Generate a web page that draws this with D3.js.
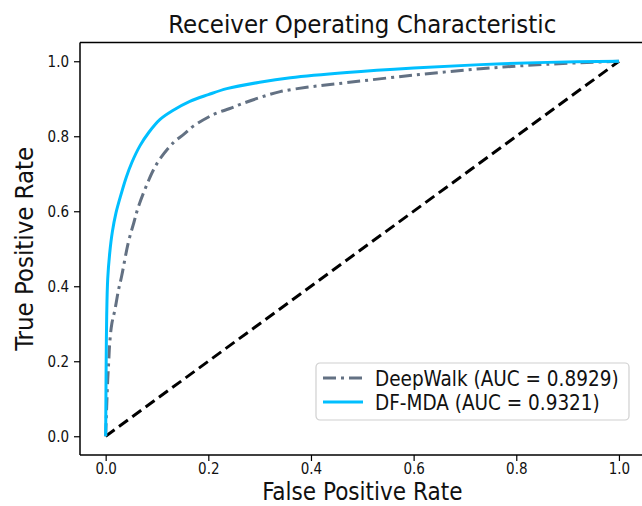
<!DOCTYPE html>
<html>
<head>
<meta charset="utf-8">
<script src="https://cdn.jsdelivr.net/npm/d3@7"></script>
<style>
  body { margin: 0; background: #fff; }
  text { font-family: "DejaVu Sans Condensed", "DejaVu Sans", sans-serif; font-stretch: condensed; }
</style>
</head>
<body>
<svg id="chart" width="642" height="506"></svg>
<script>
// ROC data
const dfFpr = [0, 0.0005, 0.001, 0.002, 0.004, 0.008, 0.013, 0.02, 0.03, 0.04, 0.051, 0.067, 0.085, 0.106, 0.13, 0.164, 0.2, 0.236, 0.3, 0.36, 0.47, 0.6, 0.73, 0.86, 1.0];
const dfTpr = [0, 0.1, 0.2, 0.32, 0.42, 0.49, 0.545, 0.595, 0.645, 0.69, 0.73, 0.775, 0.812, 0.845, 0.868, 0.893, 0.911, 0.927, 0.944, 0.956, 0.970, 0.982, 0.991, 0.997, 1.0];

const dwFpr = [0, 0.002, 0.004, 0.006, 0.008, 0.012, 0.018, 0.025, 0.031, 0.044, 0.055, 0.064, 0.083, 0.093, 0.106, 0.132, 0.152, 0.171, 0.21, 0.242, 0.262, 0.3, 0.34, 0.4, 0.47, 0.6, 0.73, 0.86, 1.0];
const dwTpr = [0, 0.08, 0.15, 0.2, 0.25, 0.3, 0.337, 0.39, 0.426, 0.516, 0.57, 0.613, 0.68, 0.71, 0.74, 0.783, 0.805, 0.827, 0.858, 0.874, 0.885, 0.903, 0.919, 0.932, 0.943, 0.963, 0.980, 0.992, 1.0];

const chanceFpr = [0, 1];
const chanceTpr = [0, 1];

const seriesNames = ["DeepWalk (AUC = 0.8929)", "DF-MDA (AUC = 0.9321)"];
const tickValues = [0, 0.2, 0.4, 0.6, 0.8, 1.0];

const svg = d3.select("#chart");

// plot box (right spine falls just outside the picture)
const boxL = 80, boxT = 42.5, boxR = 644.6, boxB = 455;

const x = d3.scaleLinear().domain([-0.05, 1.05]).range([boxL, boxR]);
const y = d3.scaleLinear().domain([-0.05, 1.05]).range([boxB, boxT]);

const zip = (a, b) => a.map((v, i) => [v, b[i]]);
const line = d3.line().x(d => x(d[0])).y(d => y(d[1])).curve(d3.curveCatmullRom.alpha(0.5));

const plot = svg.append("g");

// chance line
plot.append("path")
  .attr("d", d3.line().x(d => x(d[0])).y(d => y(d[1]))(zip(chanceFpr, chanceTpr)))
  .attr("fill", "none")
  .attr("stroke", "#000")
  .attr("stroke-width", 3)
  .attr("stroke-dasharray", "11,5.5");

// DeepWalk
plot.append("path")
  .attr("d", line(zip(dwFpr, dwTpr)))
  .attr("fill", "none")
  .attr("stroke", "#637183")
  .attr("stroke-width", 3)
  .attr("stroke-dasharray", "13,5,3,5");

// DF-MDA
plot.append("path")
  .attr("d", line(zip(dfFpr, dfTpr)))
  .attr("fill", "none")
  .attr("stroke", "#00bfff")
  .attr("stroke-width", 3);

// axes
const xAxis = svg.append("g")
  .attr("transform", `translate(0,${boxB})`)
  .call(d3.axisBottom(x).tickValues(tickValues).tickFormat(d3.format(".1f")).tickSizeOuter(0).tickSize(6).tickPadding(2));
const yAxis = svg.append("g")
  .attr("transform", `translate(${boxL},0)`)
  .call(d3.axisLeft(y).tickValues(tickValues).tickFormat(d3.format(".1f")).tickSizeOuter(0).tickSize(6).tickPadding(5));

[xAxis, yAxis].forEach(a => {
  a.select(".domain").remove();
  a.selectAll(".tick line").attr("stroke", "#000").attr("stroke-width", 1.2);
  a.selectAll(".tick text").attr("fill", "#111").style("font-size", "15px");
});

// spines
svg.append("line").attr("x1", boxL).attr("x2", boxL).attr("y1", boxT).attr("y2", boxB)
  .attr("stroke", "#000").attr("stroke-width", 1.5);
svg.append("line").attr("x1", boxL).attr("x2", 642).attr("y1", boxT).attr("y2", boxT)
  .attr("stroke", "#000").attr("stroke-width", 1.5);
svg.append("line").attr("x1", boxL).attr("x2", 642).attr("y1", boxB).attr("y2", boxB)
  .attr("stroke", "#000").attr("stroke-width", 1.5);

// title and labels
svg.append("text")
  .attr("x", (boxL + boxR) / 2).attr("y", 33)
  .attr("text-anchor", "middle")
  .style("font-size", "25.5px").attr("fill", "#111")
  .text("Receiver Operating Characteristic");

svg.append("text")
  .attr("x", (boxL + boxR) / 2).attr("y", 500)
  .attr("text-anchor", "middle")
  .style("font-size", "24px").attr("fill", "#111")
  .text("False Positive Rate");

svg.append("text")
  .attr("transform", `translate(33,${(boxT + boxB) / 2}) rotate(-90)`)
  .attr("text-anchor", "middle")
  .style("font-size", "25.5px").attr("fill", "#111")
  .text("True Positive Rate");

// legend
const lg = svg.append("g").attr("transform", "translate(316,363)");
lg.append("rect")
  .attr("width", 313).attr("height", 57).attr("rx", 4)
  .attr("fill", "#fff").attr("fill-opacity", 0.85)
  .attr("stroke", "#d0d0d0").attr("stroke-width", 1.2);

const legendStyles = [
  { color: "#637183", dash: "13,5,3,5" },
  { color: "#00bfff", dash: null }
];

seriesNames.forEach((name, i) => {
  const row = lg.append("g").attr("transform", `translate(0,${15 + i * 24})`);
  row.append("line")
    .attr("x1", 7).attr("x2", 47).attr("y1", 0).attr("y2", 0)
    .attr("stroke", legendStyles[i].color).attr("stroke-width", 3)
    .attr("stroke-dasharray", legendStyles[i].dash);
  row.append("text")
    .attr("x", 59).attr("y", 7.5)
    .style("font-size", "20.5px").attr("fill", "#111")
    .text(name);
});
</script>
</body>
</html>
